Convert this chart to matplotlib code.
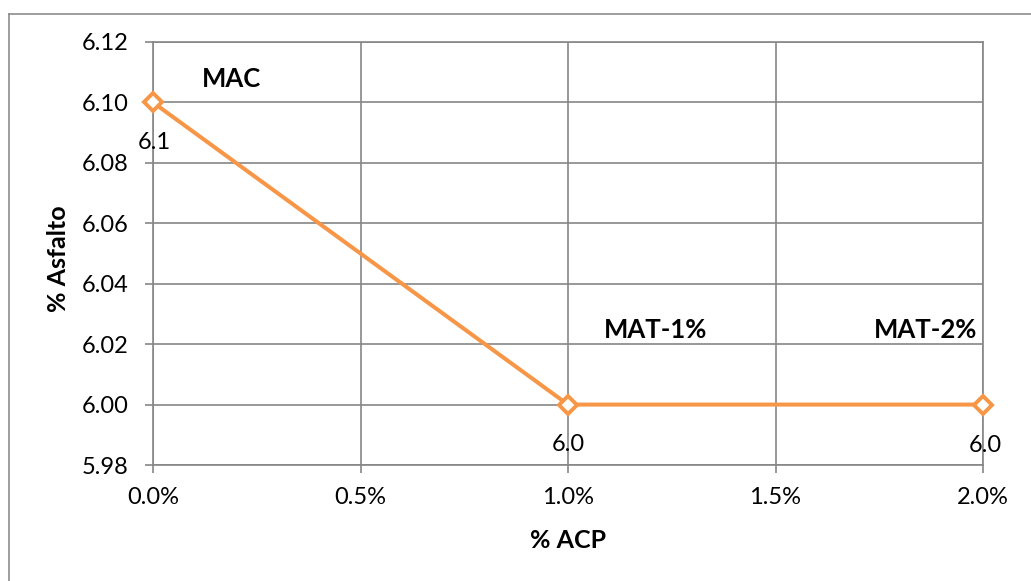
import matplotlib
matplotlib.use("Agg")
import matplotlib.pyplot as plt
from matplotlib.lines import Line2D
from matplotlib.ticker import FuncFormatter, MultipleLocator

# Asphalt content by recycled-additive percentage
acp = [0.0, 0.01, 0.02]
asfalto = [6.10, 6.00, 6.00]
mix_names = ["MAC", "MAT-1%", "MAT-2%"]
value_labels = ["6.1", "6.0", "6.0"]

W, H = 1031, 581
plt.rcParams['font.family'] = ['Lato', 'DejaVu Sans']
fig = plt.figure(figsize=(W / 100, H / 100), dpi=100)

ax = fig.add_axes([153 / W, 1 - 465 / H, (983 - 153) / W, (465 - 42) / H])

grid_c = "#868686"
orange = "#F79646"

ax.plot(acp, asfalto, color=orange, lw=2.9, marker="D", markersize=9.5,
        markerfacecolor="white", markeredgecolor=orange, markeredgewidth=2.8,
        zorder=5, clip_on=False)

ax.set_xlim(0, 0.02)
ax.set_ylim(5.98, 6.12)
ax.xaxis.set_major_locator(MultipleLocator(0.005))
ax.yaxis.set_major_locator(MultipleLocator(0.02))
ax.xaxis.set_major_formatter(FuncFormatter(lambda v, p: f"{v * 100:.1f}%"))
ax.yaxis.set_major_formatter(FuncFormatter(lambda v, p: f"{v:.2f}"))

ax.grid(True, color=grid_c, lw=1.2)
for s in ax.spines.values():
    s.set_color(grid_c)
    s.set_linewidth(1.2)
ax.tick_params(axis="both", colors=grid_c, labelcolor="black", labelsize=17,
               length=5.5, width=1.2, direction="out")
ax.tick_params(axis="x", pad=10)
ax.tick_params(axis="y", pad=12)

# axis titles
fig.text(59 / W, 1 - 259 / H, "% Asfalto", rotation=90, ha="center", va="center",
         fontsize=18, fontweight="bold")
fig.text(568 / W, 1 - 541 / H, "% ACP", ha="center", va="center",
         fontsize=18, fontweight="bold")

# value labels below each point
val_offsets = [(1, -40), (0, -40), (2, -41)]
for x, y, t, off in zip(acp, asfalto, value_labels, val_offsets):
    ax.annotate(t, (x, y), xytext=off, textcoords="offset pixels",
                ha="center", va="center", fontsize=17, zorder=6,
                annotation_clip=False)

# mix names
name_offsets = [(78, 23), (88, 75), (-57, 75)]
for x, y, t, off in zip(acp, asfalto, mix_names, name_offsets):
    ax.annotate(t, (x, y), xytext=off, textcoords="offset pixels",
                ha="center", va="center", fontsize=18.5, fontweight="bold",
                zorder=6, annotation_clip=False)

# outer chart frame (left and top edges)
frame_c = "#8c8c8c"
fig.add_artist(Line2D([8.5 / W, 8.5 / W], [0, 1 - 13.5 / H], color=frame_c, lw=1.2,
                      transform=fig.transFigure))
fig.add_artist(Line2D([8.5 / W, 1], [1 - 13.5 / H, 1 - 13.5 / H], color=frame_c, lw=1.2,
                      transform=fig.transFigure))

fig.savefig("out.png", dpi=100)
